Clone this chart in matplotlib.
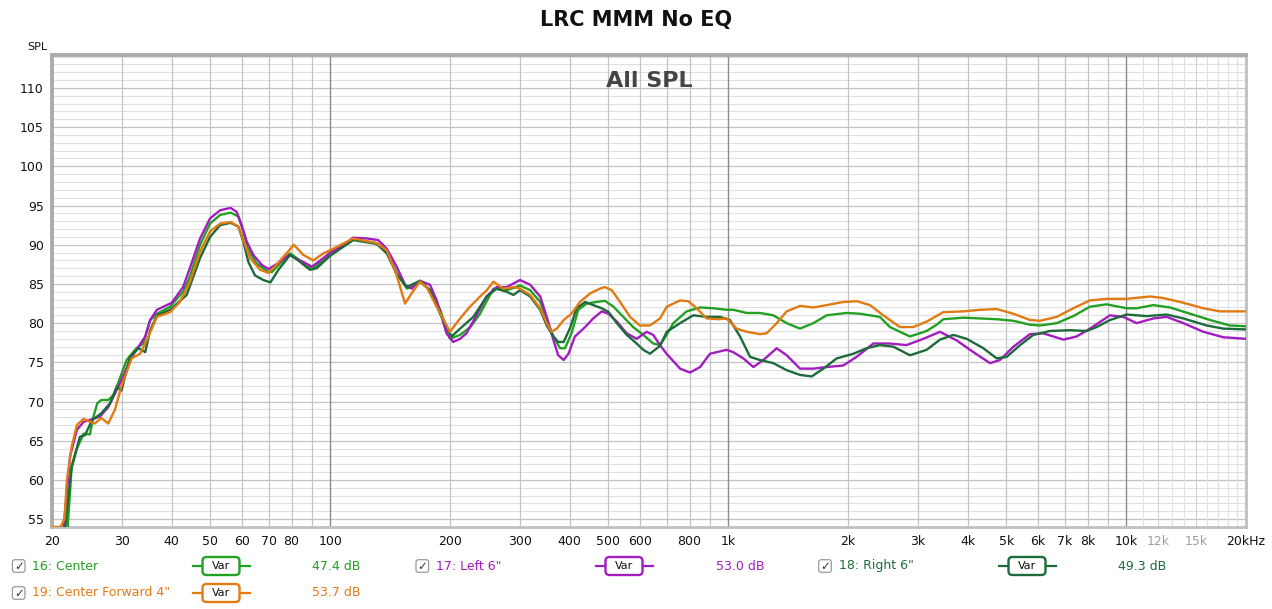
import matplotlib
matplotlib.use('Agg')
import matplotlib.pyplot as plt
from matplotlib.patches import FancyBboxPatch
from matplotlib.ticker import NullLocator

# ---------------- data ----------------
center_f = [20, 21.0, 21.9, 22.4, 23.1, 24.0, 24.9, 25.4, 26.0, 26.6, 27.7, 28.5, 29.1, 30.8, 32.6, 33.9,
            35.3, 36.7, 39.6, 42.7, 44.4, 47.1, 49.9, 52.9, 56.2, 58.8, 60.5, 62.3, 65.4, 69.5, 71.3, 74.8,
            79.3, 82.4, 87.3, 90.7, 96.1, 100, 114, 131, 139, 147, 156, 168, 178, 189, 200, 212, 225, 238,
            257, 278, 300, 318, 337, 350, 364, 378, 389, 404, 420, 441, 467, 490, 515, 545, 577, 612, 648,
            674, 700, 728, 786, 850, 918, 991, 1030, 1113, 1202, 1298, 1403, 1515, 1637, 1768, 1985, 2143,
            2405, 2549, 2863, 3152, 3341, 3472, 3898, 4294, 4728, 5207, 5733, 6074, 6688, 7366, 8110, 8930,
            10020, 10620, 11700, 12880, 14470, 16240, 18230, 20000]
center_db = [45, 48, 54, 61.5, 64.0, 65.9, 65.8, 68.0, 69.8, 70.2, 70.2, 70.8, 71.9, 75.3, 76.8, 77.4,
             80.4, 81.2, 82.1, 84.0, 85.9, 90.0, 92.7, 93.8, 94.1, 93.6, 91.7, 89.3, 87.6, 86.6, 86.5, 87.6,
             88.9, 88.3, 87.2, 87.0, 88.0, 88.9, 90.7, 90.2, 89.1, 86.3, 84.4, 85.3, 84.2, 81.7, 78.0, 78.5,
             79.5, 81.2, 84.4, 84.2, 84.8, 84.2, 82.7, 80.4, 78.3, 76.8, 76.8, 78.7, 81.7, 82.5, 82.7, 82.85,
             82.1, 80.8, 79.5, 78.5, 77.4, 77.2, 78.5, 80.0, 81.5, 82.0, 81.9, 81.7, 81.7, 81.3, 81.3, 81.0,
             80.0, 79.3, 80.0, 81.0, 81.3, 81.2, 80.8, 79.5, 78.3, 79.0, 79.8, 80.5, 80.7, 80.6, 80.5, 80.3,
             79.8, 79.7, 80.0, 80.9, 82.1, 82.4, 81.9, 81.9, 82.3, 82.0, 81.2, 80.4, 79.7, 79.6]

left_f = [20, 21.0, 21.4, 22.2, 23.1, 24.0, 24.7, 26.4, 27.7, 29.1, 30, 31.4, 32.6, 34.3, 35.3, 36.7, 38.1,
          40, 42.7, 44.4, 47.1, 49.9, 52.9, 56.2, 58.2, 59.9, 61.7, 64.1, 67.4, 70.0, 73.7, 78.9, 85.6, 90,
          96.1, 100, 105.8, 114.3, 123.5, 132, 138.7, 146.9, 154.2, 160.2, 168.1, 178.1, 185.2, 196, 203.7,
          212, 220, 232, 247, 262, 277.6, 300, 318, 337, 350, 364, 374, 386, 397, 412, 437, 458, 481, 500,
          525, 556, 589, 624, 648, 674, 700, 757, 802, 850, 900, 991, 1030, 1092, 1157, 1226, 1324, 1403,
          1515, 1637, 1768, 1946, 2102, 2315, 2549, 2807, 3092, 3406, 3750, 4131, 4549, 4820, 5207, 5733,
          6191, 6951, 7509, 8110, 9106, 9835, 10620, 11700, 12640, 13920, 15620, 17540, 20000]
left_db = [45, 49, 54, 63.0, 66.4, 67.4, 67.6, 68.1, 69.3, 71.5, 72.9, 75.3, 76.6, 78.3, 80.4, 81.7, 82.1,
           82.6, 84.6, 87.0, 90.8, 93.35, 94.4, 94.7, 94.2, 92.5, 90.4, 88.7, 87.4, 86.9, 87.6, 88.7, 87.8,
           87.2, 88.3, 89.0, 89.7, 90.9, 90.8, 90.6, 89.5, 87.2, 84.9, 84.4, 85.4, 84.9, 82.9, 78.7, 77.6,
           78.0, 78.7, 80.8, 83.4, 84.6, 84.6, 85.5, 84.9, 83.4, 80.8, 77.8, 75.9, 75.3, 76.1, 78.3, 79.5,
           80.6, 81.5, 81.2, 80.2, 78.7, 78.0, 78.9, 78.5, 77.2, 76.1, 74.2, 73.7, 74.4, 76.1, 76.6, 76.3,
           75.5, 74.4, 75.3, 76.8, 75.9, 74.2, 74.2, 74.4, 74.6, 75.7, 77.4, 77.4, 77.2, 78.0, 78.9, 77.8,
           76.3, 74.9, 75.3, 77.0, 78.6, 78.7, 77.9, 78.3, 79.3, 81.0, 80.8, 80.0, 80.6, 80.8, 80.0, 78.9,
           78.2, 78.0]

right_f = [20, 21.3, 21.6, 22.4, 23.5, 24.2, 25.2, 26.6, 28.0, 29.1, 29.9, 31.4, 33.0, 34.3, 35.3, 36.7,
           39.6, 43.6, 47.1, 49.9, 52.9, 56.2, 58.8, 60.5, 62.3, 64.7, 67.9, 70.8, 74.1, 79.3, 83.1, 89.0,
           92.5, 100, 114.3, 130.9, 138.7, 146.9, 155.7, 168.1, 178.1, 188.8, 201.9, 212, 228.9, 247.4, 262,
           277.6, 288.6, 300, 318, 337, 350, 364, 374, 386, 400, 416, 437, 458, 481, 500, 525, 556, 583, 612,
           636, 674, 701, 757, 817, 883, 954, 1010, 1071, 1135, 1202, 1298, 1403, 1515, 1621, 1734, 1873,
           2063, 2228, 2405, 2599, 2863, 3152, 3406, 3679, 3974, 4377, 4728, 5010, 5412, 5845, 6435, 7225,
           7955, 8429, 9106, 10020, 11260, 12640, 13920, 15930, 17540, 20000]
right_db = [45, 50, 54, 61.7, 65.5, 65.7, 67.6, 68.5, 69.8, 71.9, 71.4, 75.7, 76.8, 76.3, 79.1, 81.0,
            81.7, 83.6, 88.3, 91.0, 92.5, 92.8, 92.3, 90.4, 87.8, 86.1, 85.5, 85.2, 86.8, 88.7, 88.0, 86.8,
            87.0, 88.6, 90.6, 90.1, 88.9, 86.3, 84.6, 85.4, 84.2, 81.2, 78.3, 79.3, 80.8, 83.4, 84.4, 84.0,
            83.6, 84.2, 83.4, 81.7, 79.7, 78.3, 77.6, 77.6, 79.3, 81.9, 82.7, 82.3, 81.9, 81.45, 80.0, 78.5,
            77.6, 76.6, 76.1, 77.1, 78.9, 80.0, 81.0, 80.8, 80.8, 80.4, 78.3, 75.7, 75.3, 74.9, 74.0, 73.4,
            73.2, 74.2, 75.5, 76.1, 76.8, 77.2, 77.0, 75.9, 76.6, 77.9, 78.5, 78.0, 76.8, 75.5, 75.7, 77.2,
            78.5, 79.0, 79.1, 79.0, 79.5, 80.4, 81.1, 80.9, 81.1, 80.6, 79.7, 79.3, 79.2]

fwd_f = [20, 21.0, 21.5, 21.8, 22.4, 23.1, 24.0, 24.7, 25.6, 26.6, 27.7, 28.8, 29.9, 31.7, 33.3, 34.6,
         36.7, 39.6, 41.9, 44.4, 47.1, 49.9, 52.9, 56.2, 58.8, 60.5, 62.9, 66.7, 70.0, 73.7, 78.9, 81.0,
         85.6, 90.7, 96.1, 100, 114.3, 130.9, 138.7, 146.9, 154.2, 160.2, 168.1, 174.8, 185.2, 200, 212,
         224.5, 238, 247.4, 257, 272, 290, 300, 318, 337, 350, 360, 371, 386, 404, 424, 450, 476, 490, 510,
         535, 567, 600, 636, 674, 701, 757, 794, 833, 883, 944, 991, 1050, 1113, 1202, 1249, 1324, 1403,
         1515, 1637, 1768, 1946, 2102, 2271, 2453, 2701, 2918, 3152, 3472, 3898, 4294, 4728, 5207, 5733,
         6074, 6688, 7366, 8110, 8930, 10020, 11480, 12400, 13920, 15620, 17210, 20000]
fwd_db = [54.0, 54.0, 55, 60.0, 64.2, 67.0, 67.8, 67.5, 67.2, 67.9, 67.2, 69.0, 72.0, 75.5, 76.1, 77.8,
          80.8, 81.4, 82.7, 85.2, 89.1, 91.7, 92.7, 92.9, 92.3, 90.6, 88.3, 86.8, 86.4, 87.6, 89.3, 90.0,
          88.7, 88.0, 88.9, 89.3, 90.8, 90.2, 89.3, 86.1, 82.5, 83.8, 85.3, 84.6, 82.1, 78.9, 80.6, 82.1,
          83.4, 84.2, 85.3, 84.4, 84.6, 84.4, 83.6, 81.9, 80.0, 78.9, 79.3, 80.4, 81.2, 82.7, 83.8, 84.4,
          84.6, 84.2, 82.7, 80.8, 79.7, 79.7, 80.6, 82.1, 82.9, 82.8, 81.9, 80.6, 80.5, 80.6, 79.3, 78.9,
          78.6, 78.7, 80.0, 81.5, 82.2, 82.0, 82.3, 82.7, 82.8, 82.3, 81.0, 79.5, 79.5, 80.2, 81.4, 81.5,
          81.7, 81.8, 81.2, 80.4, 80.3, 80.8, 81.9, 82.9, 83.1, 83.1, 83.4, 83.2, 82.6, 81.9, 81.5, 81.5]

names = ['16: Center', '17: Left 6"', '18: Right 6"', '19: Center Forward 4"']
levels = ['47.4 dB', '53.0 dB', '49.3 dB', '53.7 dB']
colors = ['#22a022', '#a21cc0', '#1d6b3b', '#e27a12']

xtick_vals = [20, 30, 40, 50, 60, 70, 80, 100, 200, 300, 400, 500, 600, 800, 1000, 2000, 3000, 4000,
              5000, 6000, 7000, 8000, 10000, 12000, 15000, 20000]
xtick_labels = ['20', '30', '40', '50', '60', '70', '80', '100', '200', '300', '400', '500', '600', '800',
                '1k', '2k', '3k', '4k', '5k', '6k', '7k', '8k', '10k', '12k', '15k', '20kHz']
ytick_vals = [55, 60, 65, 70, 75, 80, 85, 90, 95, 100, 105, 110]

# ---------------- figure ----------------
W, H = 1272, 609
fig = plt.figure(figsize=(W / 100, H / 100), dpi=100)
ax = fig.add_axes([52 / W, 1 - 527 / H, (1246 - 52) / W, (527 - 55) / H])
ax.set_xscale('log')
ax.set_xlim(20, 20000)
ax.set_ylim(54, 114.2)

# grid
for v in range(55, 115):
    if v % 5 == 0:
        ax.axhline(v, color='#c4c4c4', lw=0.9, zorder=1)
    else:
        ax.axhline(v, color='#e0e0e0', lw=0.8, zorder=1)
for dec in [10, 100, 1000, 10000]:
    for m in range(1, 10):
        v = dec * m
        if v < 20 or v > 20000:
            continue
        if m == 1:
            ax.axvline(v, color='#8a8a8a', lw=1.0, zorder=1.5)
        else:
            ax.axvline(v, color='#c4c4c4', lw=0.9, zorder=1.2)
for k in range(11, 20):
    if k in (12, 15):
        ax.axvline(k * 1000, color='#d0d0d0', lw=0.8, zorder=1.1)
    else:
        ax.axvline(k * 1000, color='#e2e2e2', lw=0.8, zorder=1.1)

for f, d, c in zip([center_f, left_f, right_f, fwd_f], [center_db, left_db, right_db, fwd_db], colors):
    ax.plot(f, d, color=c, lw=1.7, solid_joinstyle='round', solid_capstyle='round', zorder=3)

ax.set_xticks(xtick_vals)
ax.set_xticklabels(xtick_labels)
ax.xaxis.set_minor_locator(NullLocator())
ax.set_yticks(ytick_vals)
ax.yaxis.set_minor_locator(NullLocator())
ax.tick_params(axis='both', length=0, labelsize=9, colors='#111111')
ax.tick_params(axis='x', pad=6)
ax.tick_params(axis='y', pad=6)
for lab in ax.get_xticklabels():
    if lab.get_text() in ('12k', '15k'):
        lab.set_color('#a0a0a0')

for s in ax.spines.values():
    s.set_color('#c0c0c0')
    s.set_linewidth(2.0)
ax.spines['left'].set_color('#ababab')
ax.spines['top'].set_color('#ababab')
ax.spines['left'].set_linewidth(2.8)
ax.spines['top'].set_linewidth(2.8)

ax.text(0.5, 0.966, 'All SPL', transform=ax.transAxes, ha='center', va='top',
        fontsize=16, fontweight='bold', color='#454545', zorder=4)

# overlay in pixel coordinates
ov = fig.add_axes([0, 0, 1, 1])
ov.set_xlim(0, W)
ov.set_ylim(H, 0)
ov.axis('off')

ov.text(636, 20, 'LRC MMM No EQ', ha='center', va='center', fontsize=15, fontweight='bold', color='#111111')
ov.text(37, 47, 'SPL', ha='center', va='center', fontsize=8, color='#111111')

legend_pos = [(18.7, 566, 32, 221, 312), (422.3, 566, 436, 624, 716), (825, 566, 839, 1027, 1118),
              (18.7, 593, 32, 221, 312)]
for (cbx, cy, tx, vx, lx), name, lev, c in zip(legend_pos, names, levels, colors):
    ov.add_patch(FancyBboxPatch((cbx - 6.3, cy - 6.3), 12.6, 12.6,
                                boxstyle='round,pad=0,rounding_size=2.5', fc='white', ec='#9a9a9a', lw=0.9))
    ov.text(cbx, cy + 0.5, '\u2713', ha='center', va='center', fontsize=8.5, color='#333333')
    ov.text(tx, cy, name, ha='left', va='center', fontsize=9, color=c)
    ov.plot([vx - 28.5, vx + 28.5], [cy, cy], color=c, lw=1.6, zorder=2)
    ov.add_patch(FancyBboxPatch((vx - 18.5, cy - 9), 37, 18, boxstyle='round,pad=0,rounding_size=4',
                                fc='white', ec=c, lw=1.7, zorder=3))
    ov.text(vx, cy, 'Var', ha='center', va='center', fontsize=8, color='#111111', zorder=4)
    ov.text(lx, cy, lev, ha='left', va='center', fontsize=9, color=c)

fig.savefig('out.png', dpi=100, facecolor='white')
